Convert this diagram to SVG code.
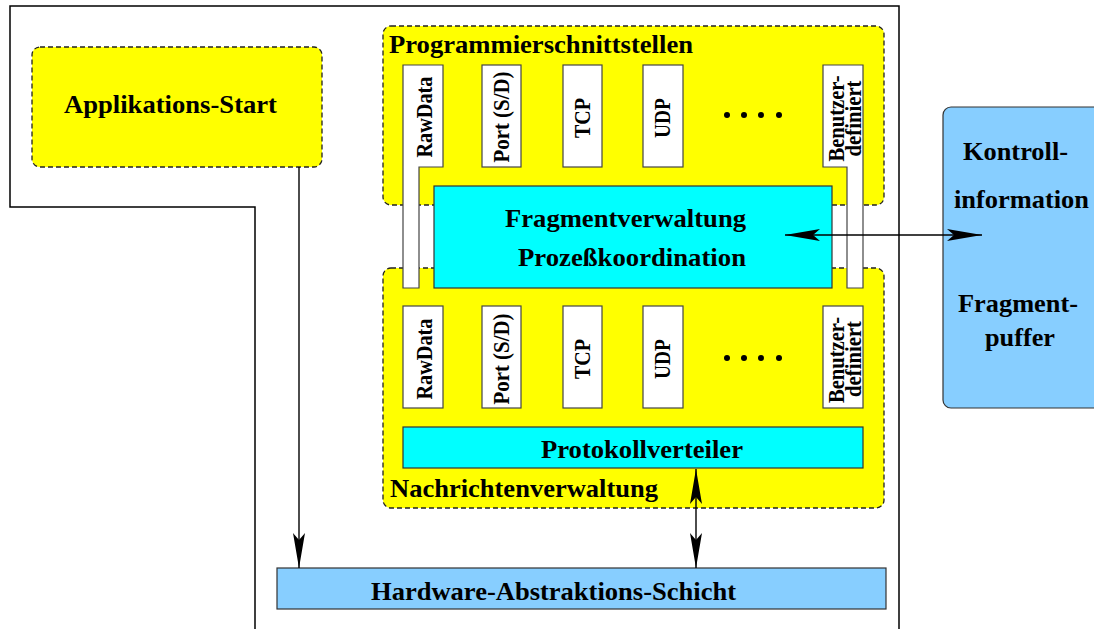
<svg xmlns="http://www.w3.org/2000/svg" width="1094" height="629" viewBox="0 0 1094 629">
<style>
text{font-family:"Liberation Serif","Times New Roman",serif;font-weight:bold;fill:#000}
.h{font-size:25px}
.v{font-size:23px;text-anchor:middle}
.ybox{fill:#ffff00;stroke:#222;stroke-width:1.3;stroke-dasharray:5,3}
.wbox{fill:#fff;stroke:#444;stroke-width:1.2}
.cyan{fill:#00ffff;stroke:#333;stroke-width:1.2}
.blue{fill:#87ceff;stroke:#333;stroke-width:1.2}
.frame{fill:none;stroke:#000;stroke-width:1.5}
.conn{fill:none;stroke:#000;stroke-width:1.4}
.dot{fill:#000}
</style>
<defs>
<marker id="ah" viewBox="0 0 35 12" refX="35" refY="6" markerWidth="35" markerHeight="12" markerUnits="userSpaceOnUse" orient="auto-start-reverse">
<path d="M0,0 L35,6 L0,12 L7,6 Z" fill="#000"/>
</marker>
</defs>
<rect width="1094" height="629" fill="#fff"/>
<g id="frame">
<polyline class="frame" points="255,629 255,207 10,207 10,6 899,6 899,629"/>
</g>
<g id="app-start">
<rect class="ybox" x="32" y="47" width="290" height="120" rx="8"/>
<text class="h" x="64" y="113" textLength="213" lengthAdjust="spacingAndGlyphs">Applikations-Start</text>
</g>
<g id="programmierschnittstellen">
<rect class="ybox" x="383" y="26" width="501" height="179" rx="8"/>
<text class="h" x="389" y="53" textLength="304" lengthAdjust="spacingAndGlyphs">Programmierschnittstellen</text>
</g>
<g id="nachrichtenverwaltung">
<rect class="ybox" x="383" y="268" width="501" height="240" rx="8"/>
<text class="h" x="390" y="497" textLength="268" lengthAdjust="spacingAndGlyphs">Nachrichtenverwaltung</text>
</g>
<g id="api-boxes">
<polygon class="wbox" points="403,65 443,65 443,167 419,167 419,288 403,288"/>
<text class="v" transform="translate(432,117) rotate(-90)" textLength="81" lengthAdjust="spacingAndGlyphs">RawData</text>
<rect class="wbox" x="482" y="65" width="39" height="102"/>
<text class="v" transform="translate(509,117) rotate(-90)" textLength="91" lengthAdjust="spacingAndGlyphs">Port (S/D)</text>
<rect class="wbox" x="563" y="65" width="39" height="102"/>
<text class="v" transform="translate(590,118) rotate(-90)" textLength="40" lengthAdjust="spacingAndGlyphs">TCP</text>
<rect class="wbox" x="643" y="65" width="40" height="102"/>
<text class="v" transform="translate(670,118) rotate(-90)" textLength="40" lengthAdjust="spacingAndGlyphs">UDP</text>
<circle class="dot" cx="727" cy="115" r="3"/>
<circle class="dot" cx="744" cy="115" r="3"/>
<circle class="dot" cx="761" cy="115" r="3"/>
<circle class="dot" cx="779" cy="115" r="3"/>
<polygon class="wbox" points="823,65 863,65 863,288 847,288 847,167 823,167"/>
<text class="v" transform="translate(843.5,118.5) rotate(-90)" textLength="86" lengthAdjust="spacingAndGlyphs">Benutzer-</text>
<text class="v" transform="translate(861,118.5) rotate(-90)" textLength="76" lengthAdjust="spacingAndGlyphs">definiert</text>
</g>
<g id="protocol-boxes">
<rect class="wbox" x="403" y="306" width="40" height="102"/>
<text class="v" transform="translate(432,359) rotate(-90)" textLength="81" lengthAdjust="spacingAndGlyphs">RawData</text>
<rect class="wbox" x="482" y="306" width="39" height="102"/>
<text class="v" transform="translate(509,359) rotate(-90)" textLength="91" lengthAdjust="spacingAndGlyphs">Port (S/D)</text>
<rect class="wbox" x="563" y="306" width="39" height="102"/>
<text class="v" transform="translate(590,359) rotate(-90)" textLength="40" lengthAdjust="spacingAndGlyphs">TCP</text>
<rect class="wbox" x="643" y="306" width="40" height="102"/>
<text class="v" transform="translate(670,359) rotate(-90)" textLength="40" lengthAdjust="spacingAndGlyphs">UDP</text>
<circle class="dot" cx="727" cy="358" r="3"/>
<circle class="dot" cx="744" cy="358" r="3"/>
<circle class="dot" cx="761" cy="358" r="3"/>
<circle class="dot" cx="779" cy="358" r="3"/>
<rect class="wbox" x="823" y="306" width="40" height="102"/>
<text class="v" transform="translate(843.5,360) rotate(-90)" textLength="86" lengthAdjust="spacingAndGlyphs">Benutzer-</text>
<text class="v" transform="translate(861,359) rotate(-90)" textLength="76" lengthAdjust="spacingAndGlyphs">definiert</text>
</g>
<g id="fragmentverwaltung">
<rect class="cyan" x="434" y="186" width="398" height="102"/>
<text class="h" x="505" y="227" textLength="241" lengthAdjust="spacingAndGlyphs">Fragmentverwaltung</text>
<text class="h" x="518" y="266" textLength="228" lengthAdjust="spacingAndGlyphs">Prozeßkoordination</text>
</g>
<g id="protokollverteiler">
<rect class="cyan" x="403" y="427" width="460" height="41"/>
<text class="h" x="541" y="458" textLength="202" lengthAdjust="spacingAndGlyphs">Protokollverteiler</text>
</g>
<g id="hardware">
<rect class="blue" x="277" y="568" width="609" height="41"/>
<text class="h" x="371" y="600" textLength="365" lengthAdjust="spacingAndGlyphs">Hardware-Abstraktions-Schicht</text>
</g>
<g id="kontroll">
<rect class="blue" x="943" y="107" width="170" height="301" rx="8"/>
<text class="h" x="963" y="160" textLength="105" lengthAdjust="spacingAndGlyphs">Kontroll-</text>
<text class="h" x="954" y="208" textLength="135" lengthAdjust="spacingAndGlyphs">information</text>
<text class="h" x="958" y="312" textLength="120" lengthAdjust="spacingAndGlyphs">Fragment-</text>
<text class="h" x="985" y="346" textLength="70" lengthAdjust="spacingAndGlyphs">puffer</text>
</g>
<g id="connectors">
<line class="conn" x1="299" y1="167" x2="299" y2="568" marker-end="url(#ah)"/>
<line class="conn" x1="696" y1="469" x2="696" y2="568" marker-start="url(#ah)" marker-end="url(#ah)"/>
<line class="conn" x1="785" y1="235" x2="982" y2="235" marker-start="url(#ah)" marker-end="url(#ah)"/>
</g>
</svg>
